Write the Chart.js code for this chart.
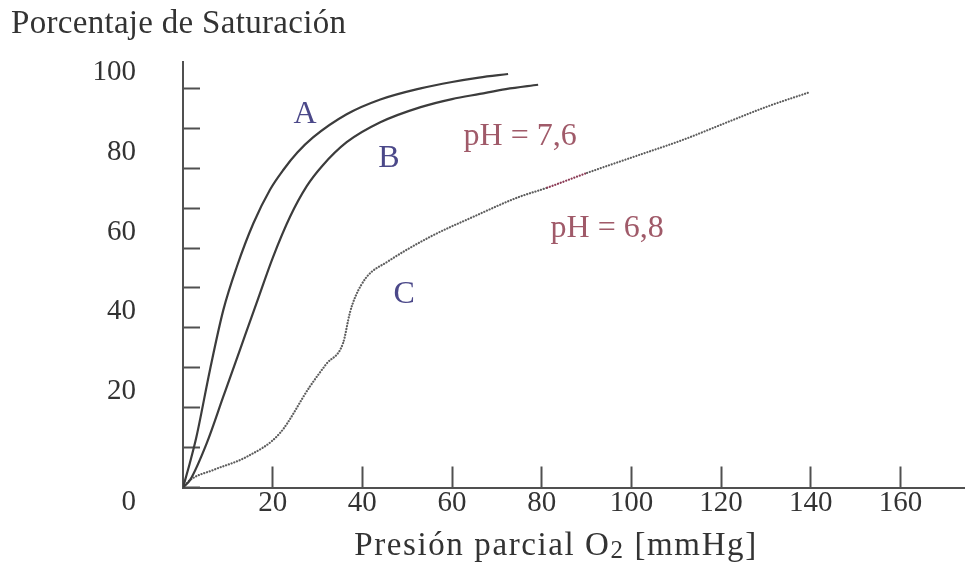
<!DOCTYPE html>
<html lang="es">
<head>
<meta charset="utf-8">
<title>Porcentaje de Saturación</title>
<script src="https://cdn.jsdelivr.net/npm/chart.js@4.4.1/dist/chart.umd.min.js"></script>
<style>
  html, body { margin: 0; padding: 0; background: #ffffff; }
  #wrap { width: 965px; height: 565px; position: relative; }
</style>
</head>
<body>
<div id="wrap"><canvas id="satChart"></canvas></div>
<script>
// Curva A
const aX = [0, 1.5, 3, 6, 9, 12, 15.7, 19.4, 22.4, 25.5, 29, 36.5, 44, 53, 60, 66, 72.5];
const aY = [0, 6, 12.7, 29.4, 44.5, 55.3, 66.2, 74.6, 79.6, 83.9, 87.7, 93.5, 97.2, 100, 101.6, 102.7, 103.6];

// Curva B
const bX = [0, 1.6, 5.3, 9, 12.7, 16.4, 20.1, 23.9, 27.6, 31, 36.5, 44, 53, 60, 66.2, 72, 79.2];
const bY = [0, 1.9, 11.1, 22.8, 34.5, 46.2, 57.8, 67.9, 75.5, 80.5, 86.5, 91.5, 95.3, 97.3, 98.6, 99.8, 100.9];

// Curva C (punteada)
const cX = [0, 1.6, 6.8, 14.2, 21.6, 28.3, 32, 35.7, 37.2, 38.4, 41, 45.5, 55.1, 64.7, 74.5, 81.2, 90.1, 100.4, 111.5, 122.7, 130.2, 139.4];
const cY = [0, 1.9, 4.4, 7.7, 13.6, 25.3, 31, 36.2, 43.7, 47.7, 52.8, 56.5, 62.8, 67.8, 72.6, 75.1, 78.8, 82.8, 87.1, 92.1, 95.4, 98.9];

// Ticks
const xTicks = [20, 40, 60, 80, 100, 120, 140, 160];
const yTicks = [0, 10, 20, 30, 40, 50, 60, 70, 80, 90, 100];
const yLabels = [20, 40, 60, 80, 100];

const serif = "'Liberation Serif', 'DejaVu Serif', serif";
const axisColor = '#505050';
const textColor = '#333333';
const curveColor = '#3c3c3c';
const dotColor = '#5e5e5e';
const redDot = '#8b3a55';
const letterColor = '#4b4889';
const phColor = '#a05a69';

const toPoints = (xs, ys) => xs.map((x, i) => ({ x: x, y: ys[i] }));

// Textos sobre el grafico (posiciones en unidades de los ejes)
const notes = [
  { text: 'A', x: 27.2, y: 93.5, color: letterColor },
  { text: 'B', x: 45.9, y: 82.4, color: letterColor },
  { text: 'C', x: 49.3, y: 48.3, color: letterColor },
  { text: 'pH = 7,6', x: 75.2, y: 87.9, color: phColor },
  { text: 'pH = 6,8', x: 94.6, y: 64.9, color: phColor },
];

const textPlugin = {
  id: 'textos',
  afterDraw(chart) {
    const ctx = chart.ctx;
    const xs = chart.scales.x;
    const ys = chart.scales.y;
    ctx.save();
    ctx.fillStyle = textColor;
    ctx.textBaseline = 'alphabetic';
    ctx.textAlign = 'left';

    // titulo del eje vertical
    ctx.font = '33px ' + serif;
    ctx.letterSpacing = '0.3px';
    ctx.fillText('Porcentaje de Saturación', 11, 33);

    // titulo del eje horizontal, con el 2 del O2 algo mas bajo
    const p1 = 'Presión parcial O';
    const p2 = '2';
    const p3 = ' [mmHg]';
    ctx.letterSpacing = '1.6px';
    const w1 = ctx.measureText(p1).width;
    const w3 = ctx.measureText(p3).width;
    ctx.font = '25px ' + serif;
    const w2 = ctx.measureText(p2).width;
    let x0 = 556 - (w1 + w2 + w3) / 2;
    ctx.font = '33px ' + serif;
    ctx.fillText(p1, x0, 555);
    ctx.font = '25px ' + serif;
    ctx.fillText(p2, x0 + w1, 558);
    ctx.font = '33px ' + serif;
    ctx.fillText(p3, x0 + w1 + w2, 555);
    ctx.letterSpacing = '0px';

    ctx.font = '29px ' + serif;
    ctx.textAlign = 'right';
    ctx.textBaseline = 'middle';
    ctx.fillText('0', 136, ys.getPixelForValue(0) + 15);

    ctx.font = '32px ' + serif;
    ctx.textAlign = 'center';
    notes.forEach(n => {
      ctx.fillStyle = n.color;
      ctx.fillText(n.text, xs.getPixelForValue(n.x), ys.getPixelForValue(n.y));
    });
    ctx.restore();
  }
};

new Chart(document.getElementById('satChart'), {
  type: 'line',
  data: {
    datasets: [
      {
        label: 'A',
        data: toPoints(aX, aY),
        borderColor: curveColor,
        borderWidth: 2.2,
        pointRadius: 0,
        cubicInterpolationMode: 'monotone',
      },
      {
        label: 'B',
        data: toPoints(bX, bY),
        borderColor: curveColor,
        borderWidth: 2.2,
        pointRadius: 0,
        cubicInterpolationMode: 'monotone',
      },
      {
        label: 'C',
        data: toPoints(cX, cY),
        borderColor: dotColor,
        borderWidth: 2.2,
        borderDash: [0.1, 2.8],
        borderCapStyle: 'round',
        pointRadius: 0,
        cubicInterpolationMode: 'monotone',
        segment: {
          borderColor: c => (c.p0.parsed.x >= 81 && c.p1.parsed.x <= 91) ? redDot : dotColor,
        },
      },
    ],
  },
  options: {
    responsive: true,
    maintainAspectRatio: false,
    animation: false,
    layout: { padding: { top: 62, right: 0, bottom: 0, left: 0 } },
    plugins: {
      legend: { display: false },
      tooltip: { enabled: false },
    },
    scales: {
      x: {
        type: 'linear',
        min: 0,
        max: 174.4,
        afterBuildTicks: s => { s.ticks = xTicks.map(v => ({ value: v })); },
        afterFit: s => { s.height = 77.5; s.paddingLeft = 0; s.paddingRight = 0; },
        border: { display: true, color: axisColor, width: 2 },
        grid: { display: true, drawOnChartArea: false, drawTicks: true, tickLength: -21, tickColor: axisColor, tickWidth: 2 },
        ticks: { color: textColor, padding: 19.5, maxRotation: 0, autoSkip: false, font: { family: serif, size: 29 } },
      },
      y: {
        type: 'linear',
        min: 0,
        max: 106.6,
        afterBuildTicks: s => { s.ticks = yTicks.map(v => ({ value: v })); },
        afterFit: s => { s.width = 183; s.paddingTop = 0; s.paddingBottom = 0; },
        border: { display: true, color: axisColor, width: 2 },
        grid: { display: true, drawOnChartArea: false, drawTicks: true, tickLength: -17, tickColor: axisColor, tickWidth: 2 },
        ticks: {
          color: textColor,
          padding: 64,
          labelOffset: -16,
          autoSkip: false,
          font: { family: serif, size: 29 },
          callback: v => yLabels.includes(v) ? String(v) : '',
        },
      },
    },
  },
  plugins: [textPlugin],
});
</script>
</body>
</html>
